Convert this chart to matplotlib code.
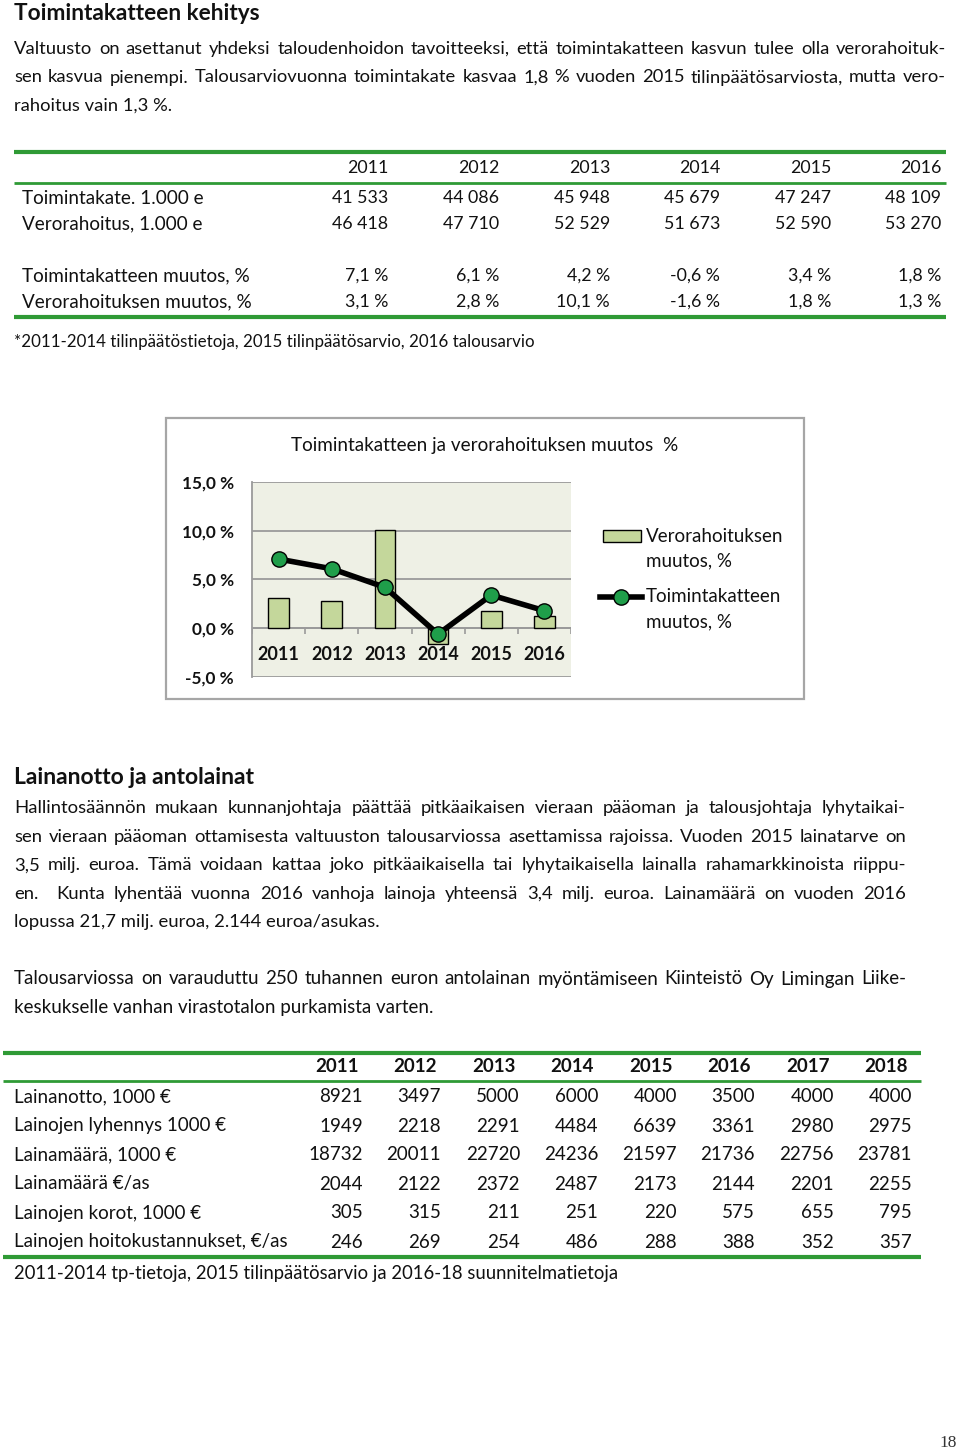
import matplotlib
matplotlib.use('Agg')
import matplotlib.pyplot as plt
from matplotlib.patches import Rectangle
from matplotlib.lines import Line2D
import numpy as np

# ---------------- data ----------------
years1 = [2011, 2012, 2013, 2014, 2015, 2016]
toimintakate = [41533, 44086, 45948, 45679, 47247, 48109]
verorahoitus = [46418, 47710, 52529, 51673, 52590, 53270]
tk_muutos = [7.1, 6.1, 4.2, -0.6, 3.4, 1.8]
vr_muutos = [3.1, 2.8, 10.1, -1.6, 1.8, 1.3]

years2 = [2011, 2012, 2013, 2014, 2015, 2016, 2017, 2018]
row_labels2 = ["Lainanotto, 1000 €", "Lainojen lyhennys 1000 €", "Lainamäärä, 1000 €",
               "Lainamäärä €/as", "Lainojen korot, 1000 €", "Lainojen hoitokustannukset, €/as"]
lainanotto = [8921, 3497, 5000, 6000, 4000, 3500, 4000, 4000]
lyhennys = [1949, 2218, 2291, 4484, 6639, 3361, 2980, 2975]
lainamaara = [18732, 20011, 22720, 24236, 21597, 21736, 22756, 23781]
lainamaara_as = [2044, 2122, 2372, 2487, 2173, 2144, 2201, 2255]
korot = [305, 315, 211, 251, 220, 575, 655, 795]
hoitokust = [246, 269, 254, 486, 288, 388, 352, 357]

para1 = ["Valtuusto on asettanut yhdeksi taloudenhoidon tavoitteeksi, että toimintakatteen kasvun tulee olla verorahoituk-",
         "sen kasvua pienempi. Talousarviovuonna toimintakate kasvaa 1,8 % vuoden 2015 tilinpäätösarviosta, mutta vero-",
         "rahoitus vain 1,3 %."]
para2 = ["Hallintosäännön mukaan kunnanjohtaja päättää pitkäaikaisen vieraan pääoman ja talousjohtaja lyhytaikai-",
         "sen vieraan pääoman ottamisesta valtuuston talousarviossa asettamissa rajoissa. Vuoden 2015 lainatarve on",
         "3,5 milj. euroa. Tämä voidaan kattaa joko pitkäaikaisella tai lyhytaikaisella lainalla rahamarkkinoista riippu-",
         "en.  Kunta lyhentää vuonna 2016 vanhoja lainoja yhteensä 3,4 milj. euroa. Lainamäärä on vuoden 2016",
         "lopussa 21,7 milj. euroa, 2.144 euroa/asukas."]
para3 = ["Talousarviossa on varauduttu 250 tuhannen euron antolainan myöntämiseen Kiinteistö Oy Limingan Liike-",
         "keskukselle vanhan virastotalon purkamista varten."]

# ---------------- page ----------------
W, H = 960, 1453
fig = plt.figure(figsize=(9.6, 14.53), dpi=100)
page = fig.add_axes([0, 0, 1, 1])
page.set_xlim(0, W)
page.set_ylim(H, 0)
page.axis('off')
renderer = fig.canvas.get_renderer()

FONT = ['Lato', 'DejaVu Sans']
GREEN = '#2f9a35'
TXT = '#111111'


def txt(x, y, s, size=13.5, weight='normal', ha='left', family=FONT, color=TXT, **kw):
    return page.text(x, y, s, fontsize=size, fontweight=weight, ha=ha, va='center',
                     family=family, color=color, **kw)


def width(s, size, weight='normal', family=FONT):
    t = page.text(0, 0, s, fontsize=size, fontweight=weight, family=family)
    w = t.get_window_extent(renderer).width
    t.remove()
    return w


def fit_size(s, target, weight='normal', family=FONT, base=13.0):
    return base * target / width(s, base, weight, family)


def fit(x, y, s, target, weight='normal', family=FONT, ha='left'):
    return txt(x, y, s, fit_size(s, target, weight, family), weight, ha, family)


def paragraph(lines, x0, x1, y0, dy, base=13.5):
    ratios = [width(l, base) / (x1 - x0) for l in lines[:-1]]
    size = base / max(ratios) * 0.98
    for i, line in enumerate(lines):
        y = y0 + i * dy
        if i == len(lines) - 1:
            txt(x0, y, line, size)
            continue
        words = line.split(' ')
        ts = [txt(x0, y, w_, size) for w_ in words]
        ws = [t.get_window_extent(renderer).width for t in ts]
        gap = (x1 - x0 - sum(ws)) / (len(words) - 1)
        x = x0
        for t, w_ in zip(ts, ws):
            t.set_x(x)
            x += w_ + gap


def hline(y, x0, x1, lw):
    page.add_line(Line2D([x0, x1], [y, y], color=GREEN, lw=lw, solid_capstyle='butt'))


def fmt_thousands(v):
    return f"{v:,}".replace(',', ' ')


def fmt_pct(v):
    return f"{v:.1f} %".replace('.', ',')


# heading 1 + paragraph
fit(14, 13, "Toimintakatteen kehitys", 246, weight='bold')
paragraph(para1, 14, 946, 49, 28.5)

# table 1
hline(152, 14, 946, 3.0)
hline(183, 14, 946, 2.0)
hline(317, 14, 946, 3.0)
col1 = [388, 499, 610, 720, 831, 941]
TS = 12.8
LS = fit_size("Toimintakatteen muutos, %", 227)
for xr, yr in zip(col1, years1):
    txt(xr, 168, str(yr), TS, ha='right')
rows1 = [("Toimintakate. 1.000 e", [fmt_thousands(v) for v in toimintakate], 198),
         ("Verorahoitus, 1.000 e", [fmt_thousands(v) for v in verorahoitus], 224),
         ("Toimintakatteen muutos, %", [fmt_pct(v) for v in tk_muutos], 276),
         ("Verorahoituksen muutos, %", [fmt_pct(v) for v in vr_muutos], 302)]
for lab, vals, y in rows1:
    txt(22, y, lab, LS)
    for xr, v in zip(col1, vals):
        txt(xr, y, v, TS, ha='right')
fit(14, 342, "*2011-2014 tilinpäätöstietoja, 2015 tilinpäätösarvio, 2016 talousarvio", 516)

# ---------------- chart ----------------
page.add_patch(Rectangle((166, 418), 638, 281, facecolor='white', edgecolor='#a6a6a6', lw=1.6))
fit(484.5, 445, "Toimintakatteen ja verorahoituksen muutos  %", 385, ha='center')

L, R, T, B = 252, 571, 482, 677
ax = fig.add_axes([L / W, 1 - B / H, (R - L) / W, (B - T) / H])
xs = np.arange(len(years1))
ax.set_facecolor('#eef0e5')
BAR = '#c4d79b'
GRN = '#1f9e4a'
ax.bar(xs, vr_muutos, width=0.39, color=BAR, edgecolor='black', linewidth=1.0, zorder=2)
ax.plot(xs, tk_muutos, color='black', lw=4.0, marker='o', ms=11, mfc=GRN, mec='black',
        mew=1.0, zorder=3, solid_joinstyle='round')
ax.set_xlim(-0.5, len(years1) - 0.5)
ax.set_ylim(-5, 15)
yt = [-5, 0, 5, 10, 15]
ax.set_yticks(yt)
ax.set_yticklabels([fmt_pct(v) for v in yt], fontsize=12.4, fontweight='bold', family=FONT, color=TXT)
ax.tick_params(axis='y', length=0, pad=13)
ax.set_xticks([])
ax.grid(axis='y', color='#9a9a9a', lw=1.3, zorder=1)
for s in ['top', 'right', 'bottom']:
    ax.spines[s].set_visible(False)
ax.spines['left'].set_color('#9a9a9a')
ax.spines['left'].set_linewidth(1.3)
ax.axhline(0, color='#9a9a9a', lw=1.3, zorder=1)
ax.vlines(np.arange(-0.5, len(years1)), -0.55, 0, color='#9a9a9a', lw=1.2, zorder=1)
for xi, yr in zip(xs, years1):
    ax.text(xi, -2.7, str(yr), ha='center', va='center', fontsize=13.0, fontweight='bold',
            family=FONT, color=TXT)
ax.set_axisbelow(True)

# legend
LG = fit_size("Verorahoituksen", 137)
page.add_patch(Rectangle((603, 530), 38, 12, facecolor=BAR, edgecolor='black', lw=1.0))
txt(646, 536, "Verorahoituksen", LG)
txt(646, 561, "muutos, %", LG)
page.add_line(Line2D([600, 642], [597, 597], color='black', lw=4.0))
page.add_line(Line2D([621], [597], marker='o', ms=11, mfc=GRN, mec='black', mew=1.0, lw=0))
txt(646, 597, "Toimintakatteen", LG)
txt(646, 622, "muutos, %", LG)

# ---------------- section 2 ----------------
fit(14, 777, "Lainanotto ja antolainat", 241, weight='bold')
paragraph(para2, 14, 906, 808, 28.6)
paragraph(para3, 14, 906, 979, 28.6)

# table 2
hline(1053, 3, 921, 3.0)
hline(1081, 3, 921, 2.0)
hline(1257, 3, 921, 3.0)
col2 = [363, 441, 520, 598, 677, 755, 834, 912]
T2 = fit_size("Lainojen hoitokustannukset, €/as", 273)
for xr, yr in zip(col2, years2):
    txt(xr - 4, 1067, str(yr), T2, weight='bold', ha='right')
rows2 = [lainanotto, lyhennys, lainamaara, lainamaara_as, korot, hoitokust]
for i, (lab, vals) in enumerate(zip(row_labels2, rows2)):
    y = 1097 + i * 29
    txt(14, y, lab, T2)
    for xr, v in zip(col2, vals):
        txt(xr, y, str(v), T2, ha='right')
fit(14, 1273, "2011-2014 tp-tietoja, 2015 tilinpäätösarvio ja 2016-18 suunnitelmatietoja", 604)

# page number
txt(948, 1443, "18", 12.5, ha='center', family=['Liberation Serif', 'DejaVu Serif'], color='#333333')

fig.savefig('out.png', dpi=100)
